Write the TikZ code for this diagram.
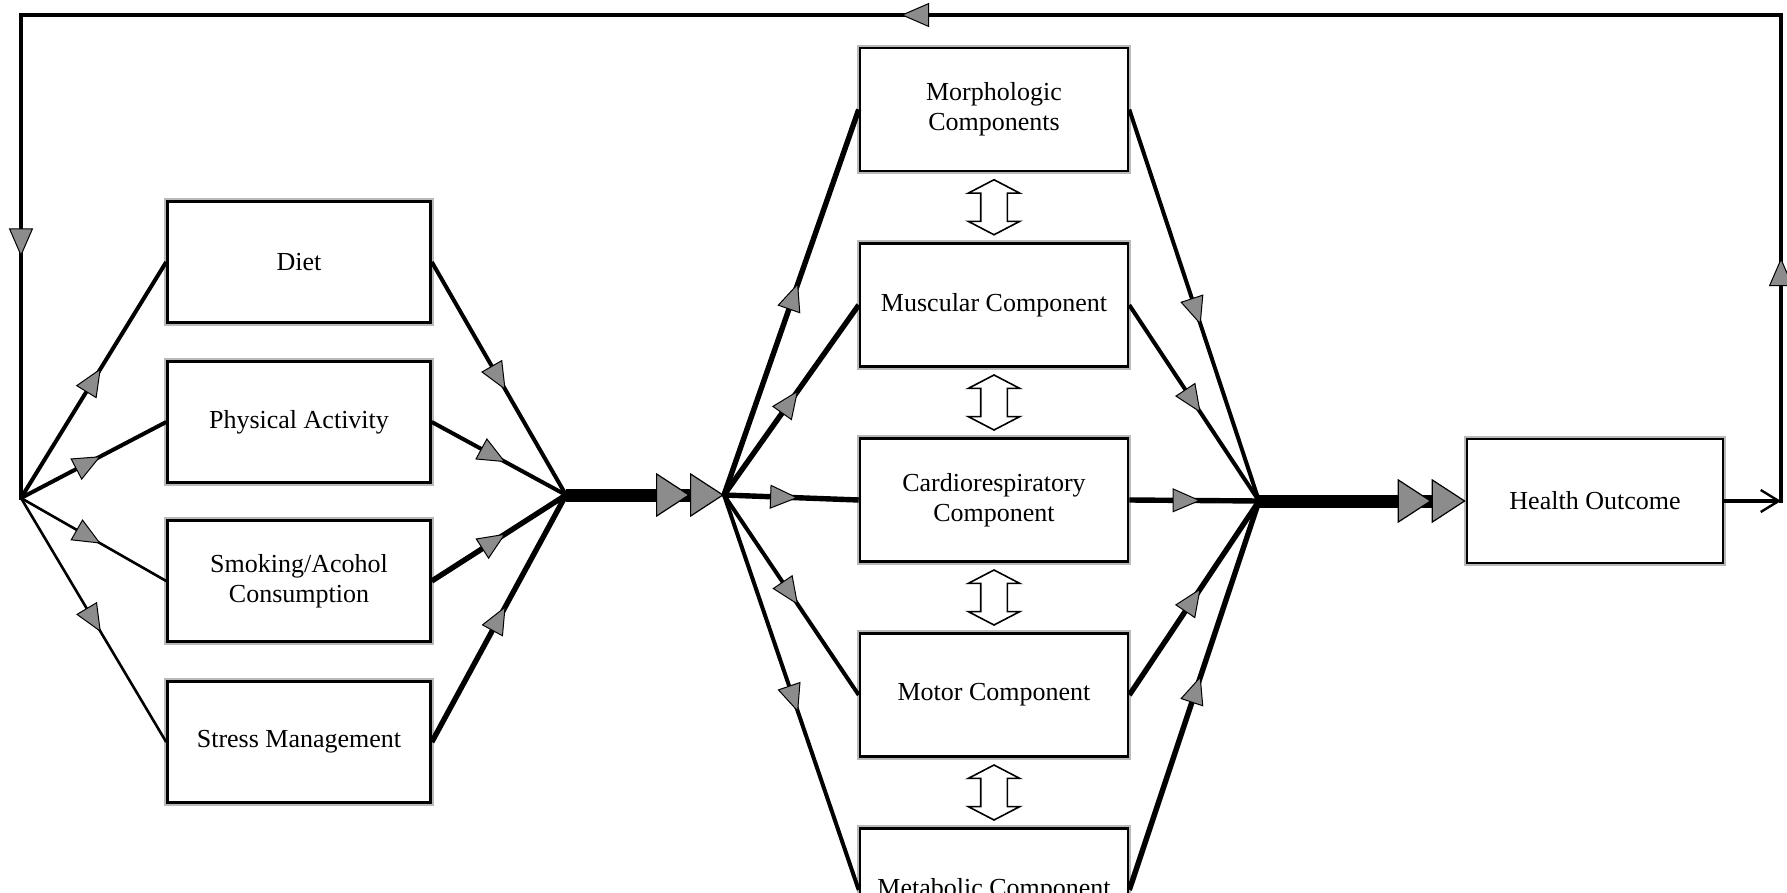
\documentclass[tikz,border=0pt]{standalone}
\usepackage{fontspec}
\setmainfont{Liberation Serif}
\usetikzlibrary{arrows.meta,decorations.markings,shapes.arrows,calc}

\tikzset{
  graytip/.tip={Triangle[length=14pt,width=12pt,fill=gray!90,line width=0.5pt]},
  bigtip/.tip={Triangle[length=17pt,width=22pt,fill=gray!90,line width=0.6pt]},
  block/.style={draw=black, line width=1.3pt, fill=white,
    preaction={draw=gray!55, line width=3.4pt},
    align=center, inner sep=0pt, font=\fontsize{13}{15}\selectfont},
  leftbox/.style={block, minimum width=131.5pt, minimum height=60.5pt},
  midbox/.style={block, minimum width=134pt, minimum height=61.5pt},
  thinlink/.style={line width=1.3pt},
  midlink/.style={line width=2pt},
  thicklink/.style={line width=2.7pt},
  flow/.style={postaction={decorate, decoration={markings,
    mark=at position #1 with {\arrow{graytip}}}}},
  flow/.default=0.55,
  mainbar/.style={line width=6.5pt, -{bigtip[] bigtip[]}},
  feedback/.style={line width=1.8pt, line cap=rect},
  twoway/.style={shape=double arrow, rotate=90, draw=black, fill=white,
    line width=0.8pt, minimum height=27.5pt, inner sep=6.25pt,
    double arrow head extend=6.25pt, double arrow tip angle=125}
}

\begin{document}
\begin{tikzpicture}[x=0.5pt, y=-0.5pt]
  \useasboundingbox (0,0) rectangle (1787,893);
  \clip (0,0) rectangle (1787,893);

  % junctions
  \coordinate (src) at (21,498);
  \coordinate (hub1) at (566,495);
  \coordinate (hub2) at (724,495);
  \coordinate (hub3) at (1259,501);
  \coordinate (corner) at (1781,501);
  \coordinate (topR) at (1781,15);
  \coordinate (topL) at (21,15);

  % lifestyle factors
  \node[leftbox] (diet) at (299,262) {Diet};
  \node[leftbox] (phys) at (299,422) {Physical Activity};
  \node[leftbox] (smoke) at (299,581) {Smoking/Acohol\\Consumption};
  \node[leftbox] (stress) at (299,742) {Stress Management};

  % fitness components
  \node[midbox] (morph) at (994,109.5) {Morphologic\\Components};
  \node[midbox] (musc) at (994,305) {Muscular Component};
  \node[midbox] (cardio) at (994,500) {Cardiorespiratory\\Component};
  \node[midbox] (motor) at (994,695) {Motor Component};
  \node[midbox] (metab) at (994,890) {Metabolic Component};

  % outcome
  \node[block, minimum width=128pt, minimum height=62pt] (health) at (1595,501) {Health Outcome};

  % links between components
  \node[twoway] (j1) at ($(morph.south)!0.5!(musc.north)$) {};
  \node[twoway] (j2) at ($(musc.south)!0.5!(cardio.north)$) {};
  \node[twoway] (j3) at ($(cardio.south)!0.5!(motor.north)$) {};
  \node[twoway] (j4) at ($(motor.south)!0.5!(metab.north)$) {};

  % fan out / fan in, left
  \foreach \b/\w in {diet/midlink, phys/midlink, smoke/thinlink, stress/thinlink}
    \draw[\w, flow] (src) -- (\b.west);
  \foreach \b/\w in {diet/midlink, phys/midlink, smoke/thicklink, stress/thicklink}
    \draw[\w, flow] (\b.east) -- (hub1);
  \draw[mainbar] (hub1) -- (hub2);

  % fan out / fan in, middle
  \foreach \b/\w in {morph/thicklink, musc/thicklink, cardio/thicklink, motor/midlink, metab/midlink}
    \draw[\w, flow] (hub2) -- (\b.west);
  \foreach \b/\w in {morph/midlink, musc/midlink, cardio/thicklink, motor/thicklink, metab/thicklink}
    \draw[\w, flow] (\b.east) -- (hub3);
  \draw[mainbar] (hub3) -- (health.west);

  % feedback loop
  \draw[line width=2pt, -{Straight Barb[length=9pt,width=11pt,line width=1.2pt]}] (health.east) -- (corner);
  \draw[feedback, flow=0.5] (corner) -- (topR);
  \draw[feedback, flow=0.5] (topR) -- (topL);
  \draw[feedback, flow=0.5] (topL) -- (src);
\end{tikzpicture}
\end{document}
